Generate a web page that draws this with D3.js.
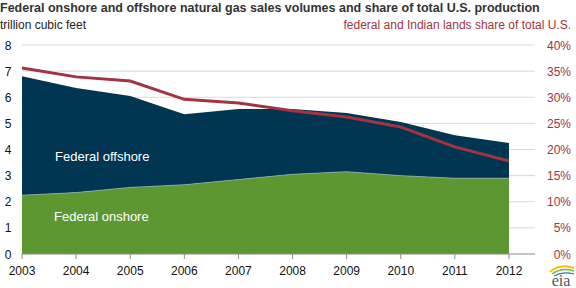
<!DOCTYPE html>
<html>
<head>
<meta charset="utf-8">
<script src="https://cdn.jsdelivr.net/npm/d3@7"></script>
<style>
  body { margin: 0; background: #fff; }
  svg { display: block; font-family: "Liberation Sans", Arial, sans-serif; }
</style>
</head>
<body>
<div id="chart"></div>
<script>
const years = [2003, 2004, 2005, 2006, 2007, 2008, 2009, 2010, 2011, 2012];
const onshore = [2.25, 2.35, 2.55, 2.65, 2.85, 3.05, 3.15, 3.0, 2.9, 2.9];
const offshore = [4.55, 4.0, 3.5, 2.7, 2.7, 2.5, 2.25, 2.05, 1.65, 1.35];
const sharePct = [35.6, 33.9, 33.1, 29.6, 28.9, 27.4, 26.2, 24.3, 20.5, 17.8];
const leftTicks = [0, 1, 2, 3, 4, 5, 6, 7, 8];
const rightTicks = [0, 5, 10, 15, 20, 25, 30, 35, 40];

const width = 576;
const height = 288;
const marginLeft = 22;
const plotRight = 535;
const yTop = 45;
const yBottom = 254;

const x = d3.scaleLinear([2003, 2012], [marginLeft, 509]);
const y = d3.scaleLinear([0, 8], [yBottom, yTop]);
const yPct = d3.scaleLinear([0, 40], [yBottom, yTop]);

const svg = d3.select("#chart").append("svg")
    .attr("width", width)
    .attr("height", height)
    .attr("viewBox", [0, 0, width, height]);

// gridlines
svg.append("g")
    .selectAll("line")
    .data(leftTicks.filter(d => d > 0))
    .join("line")
    .attr("x1", marginLeft)
    .attr("x2", plotRight)
    .attr("y1", d => y(d))
    .attr("y2", d => y(d))
    .attr("stroke", "#d9d9d9")
    .attr("stroke-width", 1);

const rows = years.map((yr, i) => ({ yr, on: onshore[i], top: onshore[i] + offshore[i], share: sharePct[i] }));

// stacked areas
svg.append("path")
    .attr("fill", "#003651")
    .attr("d", d3.area()
        .x(d => x(d.yr))
        .y0(d => y(d.on))
        .y1(d => y(d.top))(rows));

svg.append("path")
    .attr("fill", "#5d9732")
    .attr("d", d3.area()
        .x(d => x(d.yr))
        .y0(y(0))
        .y1(d => y(d.on))(rows));

svg.append("path")
    .attr("fill", "none")
    .attr("stroke", "#8fa9a8")
    .attr("stroke-width", 0.8)
    .attr("d", d3.line().x(d => x(d.yr)).y(d => y(d.on))(rows));

// share line
svg.append("path")
    .attr("fill", "none")
    .attr("stroke", "#a33340")
    .attr("stroke-width", 3)
    .attr("d", d3.line().x(d => x(d.yr)).y(d => yPct(d.share))(rows));

// x axis
const xAxis = svg.append("g").attr("transform", `translate(0,${yBottom})`);
xAxis.append("line")
    .attr("x1", marginLeft).attr("x2", plotRight)
    .attr("stroke", "#8c8c8c").attr("stroke-width", 1);
xAxis.selectAll(".tick")
    .data(years)
    .join("line")
    .attr("x1", d => x(d)).attr("x2", d => x(d))
    .attr("y1", 0).attr("y2", 5)
    .attr("stroke", "#8c8c8c");
xAxis.selectAll("text")
    .data(years)
    .join("text")
    .attr("x", d => x(d))
    .attr("y", 21)
    .attr("text-anchor", "middle")
    .attr("font-size", 12)
    .attr("fill", "#111")
    .text(d => d);

// left axis labels
svg.append("g")
    .selectAll("text")
    .data(leftTicks)
    .join("text")
    .attr("x", 8)
    .attr("y", d => y(d) + 4.5)
    .attr("text-anchor", "middle")
    .attr("font-size", 12)
    .attr("fill", "#111")
    .text(d => d);

// right axis labels
svg.append("g")
    .selectAll("text")
    .data(rightTicks)
    .join("text")
    .attr("x", 571)
    .attr("y", d => yPct(d) + 4.5)
    .attr("text-anchor", "end")
    .attr("font-size", 12)
    .attr("fill", "#a33340")
    .text(d => d + "%");

// titles
svg.append("text")
    .attr("x", 0).attr("y", 12)
    .attr("font-size", 12.5)
    .attr("font-weight", "bold")
    .attr("fill", "#333")
    .text("Federal onshore and offshore natural gas sales volumes and share of total U.S. production");

svg.append("text")
    .attr("x", 0).attr("y", 29)
    .attr("font-size", 12)
    .attr("fill", "#222")
    .text("trillion cubic feet");

svg.append("text")
    .attr("x", 571).attr("y", 29)
    .attr("text-anchor", "end")
    .attr("font-size", 12)
    .attr("fill", "#a33340")
    .text("federal and Indian lands share of total U.S.");

// area labels
svg.append("text")
    .attr("x", 55).attr("y", 161)
    .attr("font-size", 13)
    .attr("fill", "#fff")
    .text("Federal offshore");

svg.append("text")
    .attr("x", 54).attr("y", 221)
    .attr("font-size", 13)
    .attr("fill", "#fff")
    .text("Federal onshore");

// eia logo
const logo = svg.append("g").attr("transform", "translate(548,266)");
logo.append("path")
    .attr("d", "M2,6 Q12,-3 26,2")
    .attr("fill", "none").attr("stroke", "#f2c200").attr("stroke-width", 2);
logo.append("path")
    .attr("d", "M4,8 Q14,1 26,5")
    .attr("fill", "none").attr("stroke", "#7fb53b").attr("stroke-width", 1.5);
logo.append("path")
    .attr("d", "M6,10 Q15,5 26,8")
    .attr("fill", "none").attr("stroke", "#2a7ab8").attr("stroke-width", 1.2);
logo.append("text")
    .attr("x", 13).attr("y", 20)
    .attr("text-anchor", "middle")
    .attr("font-family", "Liberation Serif, serif")
    .attr("font-size", 16)
    .attr("fill", "#555")
    .text("eia");
</script>
</body>
</html>
